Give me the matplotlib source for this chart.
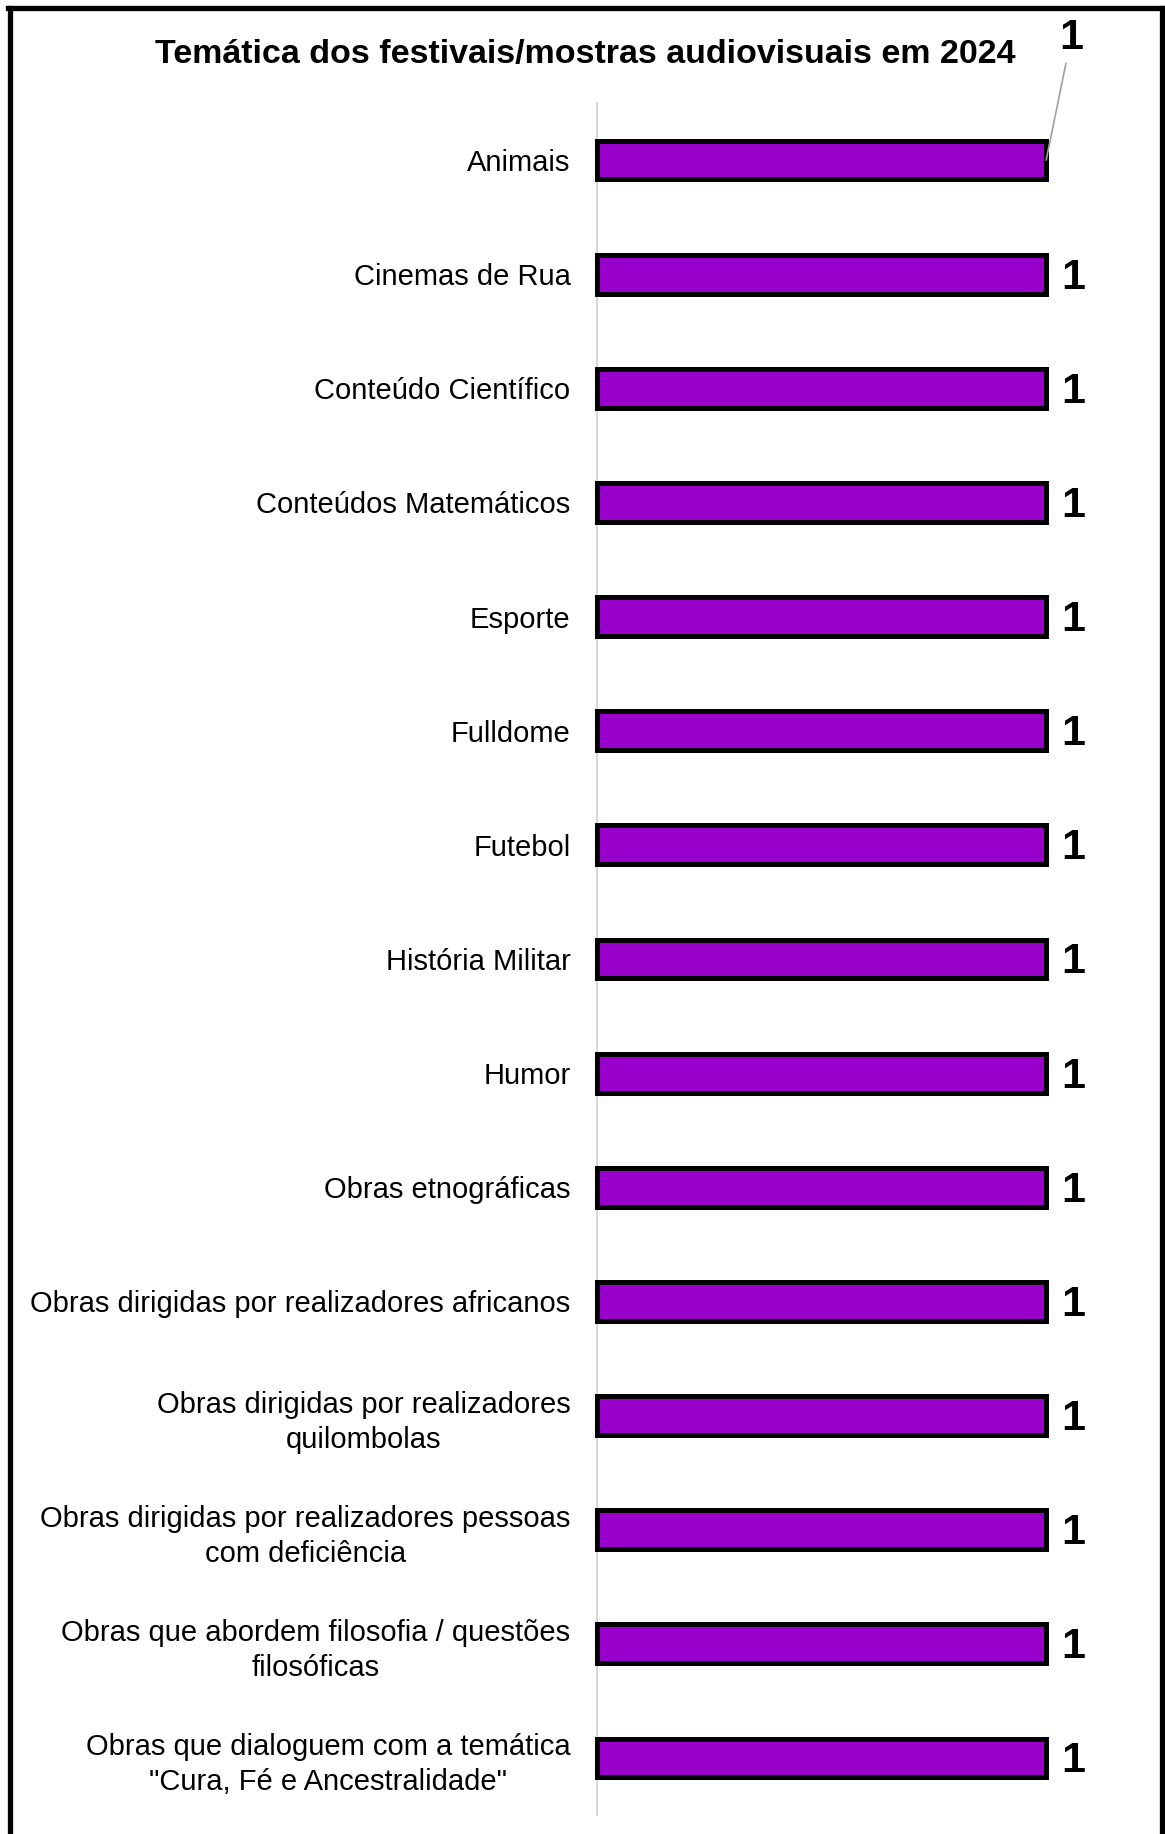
import matplotlib.pyplot as plt
from matplotlib.lines import Line2D

# temas e contagens
categorias = [
    "Animais",
    "Cinemas de Rua",
    "Conteúdo Científico",
    "Conteúdos Matemáticos",
    "Esporte",
    "Fulldome",
    "Futebol",
    "História Militar",
    "Humor",
    "Obras etnográficas",
    "Obras dirigidas por realizadores africanos",
    "Obras dirigidas por realizadores\nquilombolas",
    "Obras dirigidas por realizadores pessoas\ncom deficiência",
    "Obras que abordem filosofia / questões\nfilosóficas",
    "Obras que dialoguem com a temática\n\"Cura, Fé e Ancestralidade\"",
]
valores = [1, 1, 1, 1, 1, 1, 1, 1, 1, 1, 1, 1, 1, 1, 1]

plt.rcParams['font.family'] = ['Liberation Sans', 'DejaVu Sans']

W, H = 1165, 1834
fig = plt.figure(figsize=(W / 100, H / 100), dpi=100)
ax = fig.add_axes([597 / W, (H - 1815) / H, 539 / W, (1815 - 103) / H])

pos = list(range(len(categorias)))
ax.barh(pos, valores, height=0.34, color='#9900CC', edgecolor='black',
        linewidth=3.6, clip_on=False, zorder=3)

ax.set_xlim(0, 1.2)
ax.set_ylim(len(categorias) - 0.5, -0.5)
ax.set_yticks(pos)
ax.set_yticklabels(categorias, fontsize=21, multialignment='center', linespacing=1.32)
ax.tick_params(axis='y', length=0, pad=19)
ax.set_xticks([])
for s in ['top', 'right', 'bottom']:
    ax.spines[s].set_visible(False)
ax.spines['left'].set_color('#D0D0D0')
ax.spines['left'].set_linewidth(1.2)

# rótulos de valor
for i, v in enumerate(valores):
    if i == 0:
        ax.annotate(str(v), xy=(v, i), xytext=(18, 88), textcoords='offset points',
                    ha='center', va='center', fontsize=31, fontweight='bold',
                    arrowprops=dict(arrowstyle='-', color='#A0A0A0', lw=1.2,
                                    shrinkA=2, shrinkB=0))
    else:
        ax.annotate(str(v), xy=(v, i), xytext=(11, -2.5), textcoords='offset points',
                    ha='left', va='center', fontsize=31, fontweight='bold')

fig.text(585 / W, 1 - 63 / H, "Temática dos festivais/mostras audiovisuais em 2024",
         ha='center', va='baseline', fontsize=24.5, fontweight='bold')

# moldura
lw = 3.8
fig.add_artist(Line2D([10 / W, 10 / W], [0, 1 - 8 / H], color='black', lw=lw,
                      transform=fig.transFigure))
fig.add_artist(Line2D([1162 / W, 1162 / W], [0, 1 - 8 / H], color='black', lw=lw,
                      transform=fig.transFigure))
fig.add_artist(Line2D([8 / W, 1164 / W], [1 - 8 / H, 1 - 8 / H], color='black', lw=lw,
                      transform=fig.transFigure))

fig.savefig("out.png", dpi=100, facecolor='white')
